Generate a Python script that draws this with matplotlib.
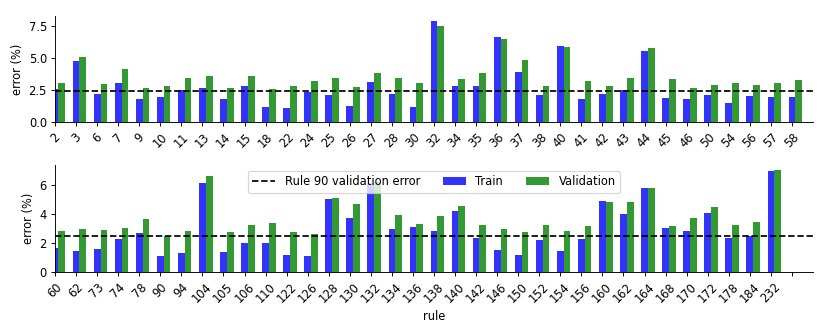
import matplotlib
matplotlib.use('Agg')
import matplotlib.pyplot as plt
import numpy as np

# rules and errors (%)
rules_top = [2, 3, 6, 7, 9, 10, 11, 13, 14, 15, 18, 22, 24, 25, 26, 27, 28, 30,
             32, 34, 35, 36, 37, 38, 40, 41, 42, 43, 44, 45, 46, 50, 54, 56, 57, 58]
train_top = [2.6, 4.79, 2.24, 3.1, 1.82, 2.0, 2.5, 2.68, 1.8, 2.81, 1.2, 1.15,
             2.37, 2.16, 1.25, 3.13, 2.24, 1.22, 7.92, 2.84, 2.81, 6.64, 3.91, 2.16,
             5.96, 1.8, 2.19, 2.5, 5.57, 1.9, 1.82, 2.14, 1.48, 2.06, 1.98, 1.95]
val_top = [3.07, 5.13, 3.0, 4.19, 2.71, 2.81, 3.49, 3.65, 2.66, 3.65, 2.6, 2.84,
           3.23, 3.44, 2.76, 3.85, 3.44, 3.07, 7.55, 3.41, 3.83, 6.51, 4.87, 2.81,
           5.89, 3.2, 2.86, 3.46, 5.81, 3.39, 2.68, 2.92, 3.05, 2.92, 3.05, 3.31]

rules_bot = [60, 62, 73, 74, 78, 90, 94, 104, 105, 106, 110, 122, 126, 128, 130,
             132, 134, 136, 138, 140, 142, 146, 150, 152, 154, 156, 160, 162, 164,
             168, 170, 172, 178, 184, 232]
train_bot = [1.65, 1.49, 1.63, 2.29, 2.7, 1.12, 1.31, 6.12, 1.42, 2.02, 2.02, 1.17,
             1.12, 5.04, 3.71, 6.1, 2.96, 3.09, 2.84, 4.22, 2.34, 1.53, 1.21, 2.2,
             1.47, 2.29, 4.9, 4.03, 5.75, 3.05, 2.86, 4.05, 2.34, 2.5, 6.94]
val_bot = [2.84, 2.96, 2.91, 3.07, 3.64, 2.5, 2.82, 6.62, 2.75, 3.23, 3.37, 2.77,
           2.63, 5.13, 4.7, 6.2, 3.94, 3.32, 3.83, 4.56, 3.23, 2.98, 2.75, 3.23,
           2.82, 3.18, 4.81, 4.81, 5.77, 3.18, 3.71, 4.49, 3.25, 3.44, 7.01]

rule90_val = 2.48
n = 36
width = 0.32

fig = plt.figure(figsize=(10, 4), dpi=83)
ax1 = fig.add_axes([0.0663, 0.6316, 0.9132, 0.3204])
ax2 = fig.add_axes([0.0663, 0.1798, 0.9132, 0.3232])

def draw(ax, rules, train, val, legend=False):
    x = np.arange(len(rules))
    ax.axhline(rule90_val, color='k', ls='--', label='Rule 90 validation error')
    ax.bar(x, train, width, color='b', alpha=0.8, label='Train')
    ax.bar(x + width, val, width, color='g', alpha=0.8, label='Validation')
    labels = [str(r) for r in rules] + [''] * (n - len(rules))
    ax.set_xticks(np.arange(n))
    ax.set_xticklabels(labels, rotation=45)
    ax.set_xlim(0, n)
    ax.set_ylabel('error (%)')
    ax.spines['top'].set_visible(False)
    ax.spines['right'].set_visible(False)
    if legend:
        ax.legend(loc='upper center', ncol=3)

draw(ax1, rules_top, train_top, val_top)
draw(ax2, rules_bot, train_bot, val_bot, legend=True)
ax1.set_yticks([0, 2.5, 5.0, 7.5])
ax2.set_yticks([0, 2, 4, 6])
ax2.set_xlabel('rule')

fig.savefig('out.png', dpi=83)
